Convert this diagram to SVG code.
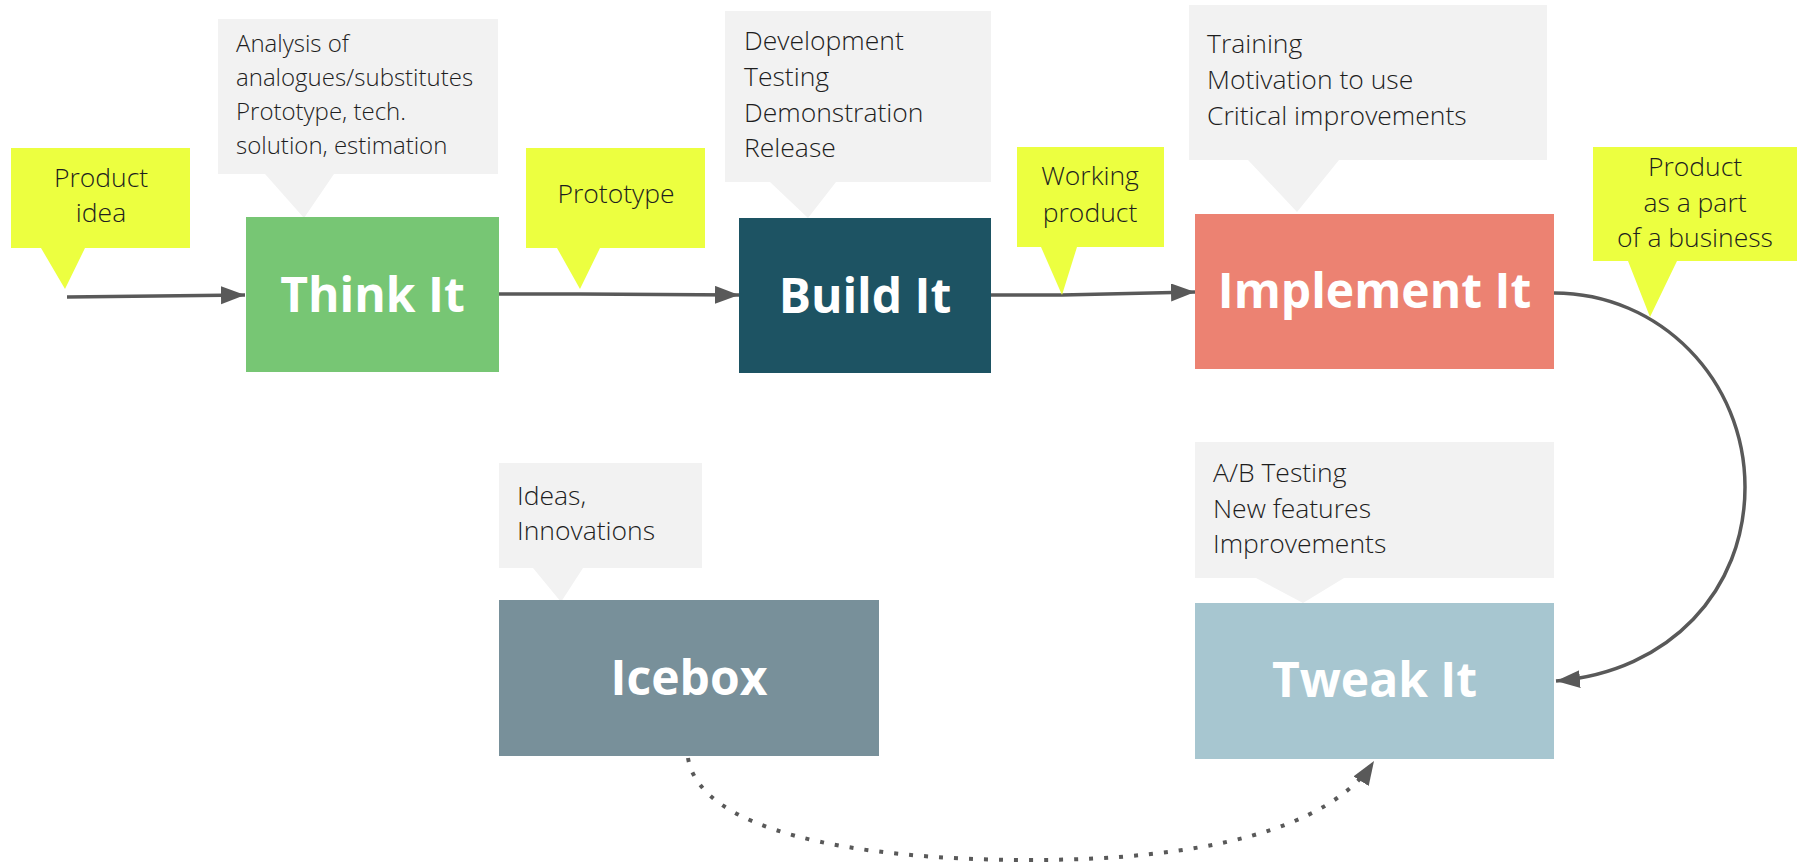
<svg xmlns="http://www.w3.org/2000/svg" width="1800" height="862" viewBox="0 0 1800 862">
<defs>
<style>
.lbl{font-family:"Open Sans","Liberation Sans",sans-serif;font-weight:300;font-size:26.5px;fill:#1e1e1e}
.sm{font-size:24px}
.mid{text-anchor:middle}
.big{font-family:"Open Sans","Liberation Sans",sans-serif;font-weight:700;font-size:48px;fill:#ffffff;text-anchor:middle}
.yel{fill:#ECFF40}
.gry{fill:#F2F2F2}
.con{fill:none;stroke:#595959;stroke-width:3.5}
.dot{fill:none;stroke:#595959;stroke-width:4;stroke-dasharray:4 11}
</style>
<marker id="ah" markerUnits="userSpaceOnUse" markerWidth="26" markerHeight="20" refX="24" refY="9" orient="auto">
<path d="M0,0 L24,9 L0,18 Z" fill="#595959"/>
</marker>
</defs>

<g id="connectors">
<path class="con" d="M67,297 L245,295" marker-end="url(#ah)"/>
<path class="con" d="M499,294 L580,294 L739,295" marker-end="url(#ah)"/>
<path class="con" d="M991,295 L1062,295 L1195,292" marker-end="url(#ah)"/>
<path class="con" d="M1554,293 C1660,293 1745,380 1745,487 C1745,590 1670,672 1556,681" marker-end="url(#ah)"/>
<path class="dot" d="M688,758 C700,830 850,860 1030,860 C1200,860 1330,830 1374,761" marker-end="url(#ah)"/>
</g>

<g id="note-product-idea">
<path class="yel" d="M11,148 H190 V248 H85 L65,289 L41,248 H11 Z"/>
<text class="lbl mid" x="101" y="187">Product</text>
<text class="lbl mid" x="101" y="222">idea</text>
</g>

<g id="note-think">
<path class="gry" d="M218,19 H498 V174 H334 L304,218 L265,174 H218 Z"/>
<text class="lbl sm" x="236" y="52">Analysis of</text>
<text class="lbl sm" x="236" y="86">analogues/substitutes</text>
<text class="lbl sm" x="236" y="120">Prototype, tech.</text>
<text class="lbl sm" x="236" y="154">solution, estimation</text>
</g>

<g id="think-it">
<rect x="246" y="217" width="253" height="155" fill="#77C674"/>
<text class="big" x="372.5" y="312">Think It</text>
</g>

<g id="note-prototype">
<path class="yel" d="M526,148 H705 V248 H600 L580,289 L557,248 H526 Z"/>
<text class="lbl mid" x="616" y="203">Prototype</text>
</g>

<g id="note-build">
<path class="gry" d="M725,11 H991 V182 H836 L808,218 L770,182 H725 Z"/>
<text class="lbl" x="744" y="50">Development</text>
<text class="lbl" x="744" y="86">Testing</text>
<text class="lbl" x="744" y="122">Demonstration</text>
<text class="lbl" x="744" y="157">Release</text>
</g>

<g id="build-it">
<rect x="739" y="218" width="252" height="155" fill="#1D5363"/>
<text class="big" x="865" y="313">Build It</text>
</g>

<g id="note-working-product">
<path class="yel" d="M1017,147 H1164 V247 H1077 L1062,295 L1041,247 H1017 Z"/>
<text class="lbl mid" x="1090" y="185">Working</text>
<text class="lbl mid" x="1090" y="222">product</text>
</g>

<g id="note-implement">
<path class="gry" d="M1189,5 H1547 V160 H1339 L1297,212 L1248,160 H1189 Z"/>
<text class="lbl" x="1207" y="53">Training</text>
<text class="lbl" x="1207" y="89">Motivation to use</text>
<text class="lbl" x="1207" y="125">Critical improvements</text>
</g>

<g id="implement-it">
<rect x="1195" y="214" width="359" height="155" fill="#EC8272"/>
<text class="big" x="1374.5" y="308">Implement It</text>
</g>

<g id="note-business">
<path class="yel" d="M1593,147 H1797 V261 H1677 L1650,317 L1628,261 H1593 Z"/>
<text class="lbl mid" x="1695" y="176">Product</text>
<text class="lbl mid" x="1695" y="212">as a part</text>
<text class="lbl mid" x="1695" y="247">of a business</text>
</g>

<g id="note-icebox">
<path class="gry" d="M499,463 H702 V568 H583 L561,602 L533,568 H499 Z"/>
<text class="lbl" x="517" y="505">Ideas,</text>
<text class="lbl" x="517" y="540">Innovations</text>
</g>

<g id="icebox">
<rect x="499" y="600" width="380" height="156" fill="#78909A"/>
<text class="big" x="689" y="695">Icebox</text>
</g>

<g id="note-tweak">
<path class="gry" d="M1195,442 H1554 V578 H1344 L1303,603 L1256,578 H1195 Z"/>
<text class="lbl" x="1213" y="482">A/B Testing</text>
<text class="lbl" x="1213" y="518">New features</text>
<text class="lbl" x="1213" y="553">Improvements</text>
</g>

<g id="tweak-it">
<rect x="1195" y="603" width="359" height="156" fill="#A7C6D0"/>
<text class="big" x="1374.5" y="697">Tweak It</text>
</g>
</svg>
